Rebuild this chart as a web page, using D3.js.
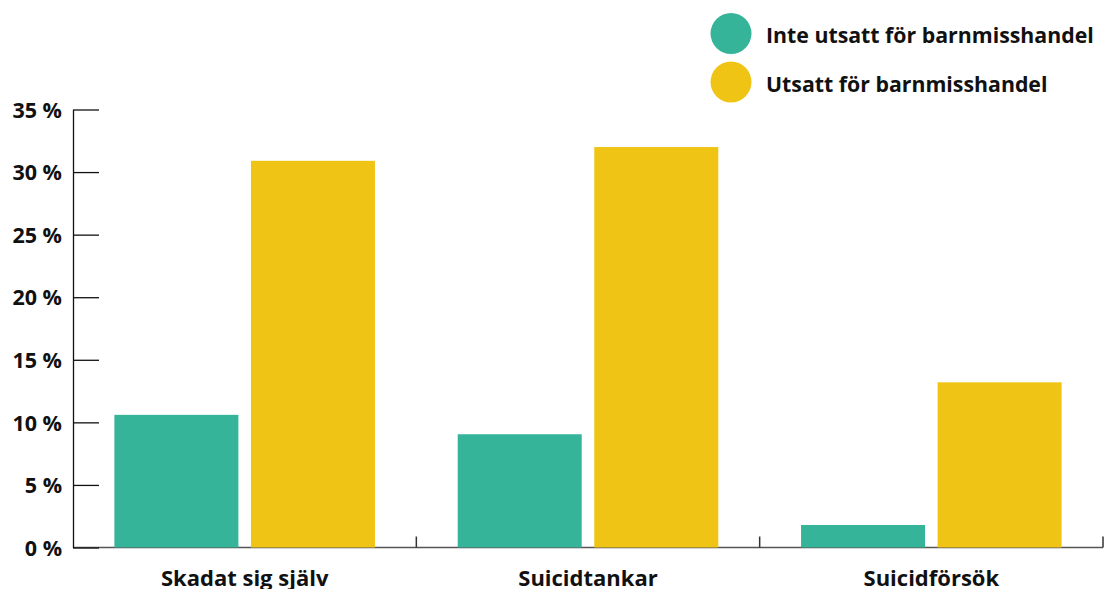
<!DOCTYPE html>
<html>
<head>
<meta charset="utf-8">
<script src="https://cdn.jsdelivr.net/npm/d3@7"></script>
<style>
  body { margin: 0; background: #fff; }
  svg { display: block; font-family: "Open Sans", "Noto Sans", sans-serif; font-weight: 700; }
</style>
</head>
<body>
<div id="container"></div>
<script>
// data
const categories = ['Skadat sig själv', 'Suicidtankar', 'Suicidförsök'];
const seriesNames = ['Inte utsatt för barnmisshandel', 'Utsatt för barnmisshandel'];
const notAbused = [10.6, 9.05, 1.8];
const abused = [30.9, 32.0, 13.2];
const yTicks = [0, 5, 10, 15, 20, 25, 30, 35];
const colors = ['#36b49a', '#f0c415'];

const svgWidth = 1105;
const svgHeight = 589;
const plotLeft = 73, plotRight = 1103, plotTop = 109.5, plotBottom = 547.5;

const svg = d3.select('#container')
  .append('svg')
  .attr('width', svgWidth)
  .attr('height', svgHeight);

const x0 = d3.scaleBand()
  .domain(categories)
  .range([plotLeft, plotRight])
  .padding(0);

const x1 = d3.scaleBand()
  .domain([0, 1])
  .range([0, x0.bandwidth()])
  .paddingInner(0.092)
  .paddingOuter(0.303);

const yScale = d3.scaleLinear()
  .domain([0, 35])
  .range([plotBottom, plotTop]);

// x axis line + category ticks
svg.append('line')
  .attr('x1', plotLeft).attr('x2', plotRight)
  .attr('y1', plotBottom).attr('y2', plotBottom)
  .attr('stroke', '#555')
  .attr('stroke-width', 1.5);

svg.selectAll('.cat-tick')
  .data(categories)
  .enter()
  .append('line')
  .attr('class', 'cat-tick')
  .attr('x1', d => x0(d) + x0.bandwidth())
  .attr('x2', d => x0(d) + x0.bandwidth())
  .attr('y1', plotBottom)
  .attr('y2', plotBottom - 11)
  .attr('stroke', '#333')
  .attr('stroke-width', 1.5);

// bars
const rows = categories.map((c, i) => ({ cat: c, vals: [notAbused[i], abused[i]] }));

const groups = svg.selectAll('.grp')
  .data(rows)
  .enter()
  .append('g')
  .attr('class', 'grp')
  .attr('transform', d => `translate(${x0(d.cat)},0)`);

groups.selectAll('rect')
  .data(d => d.vals)
  .enter()
  .append('rect')
  .attr('x', (d, i) => x1(i))
  .attr('y', d => yScale(d))
  .attr('width', x1.bandwidth())
  .attr('height', d => plotBottom - yScale(d))
  .attr('fill', (d, i) => colors[i]);

// category labels (bottom of the text is cut by the edge, as in the original)
svg.selectAll('.cat-label')
  .data(categories)
  .enter()
  .append('text')
  .attr('class', 'cat-label')
  .attr('x', d => x0(d) + x0.bandwidth() / 2)
  .attr('y', plotBottom + 38.5)
  .attr('text-anchor', 'middle')
  .attr('font-size', 22)
  .attr('fill', '#111')
  .text(d => d);

// y axis
const yAxis = d3.axisLeft(yScale)
  .tickValues(yTicks)
  .tickSizeInner(-26)
  .tickSizeOuter(0)
  .tickPadding(11)
  .tickFormat(d => d + ' %');

const yg = svg.append('g')
  .attr('transform', `translate(${plotLeft},0)`)
  .call(yAxis);

yg.select('.domain').attr('stroke', '#111').attr('stroke-width', 1.3);
yg.selectAll('.tick line').attr('stroke', '#111').attr('stroke-width', 1.3);
yg.selectAll('.tick text')
  .attr('font-size', 21.5)
  .attr('dy', '0.36em')
  .attr('font-family', '"Open Sans", "Noto Sans", sans-serif')
  .attr('font-weight', 700)
  .attr('fill', '#111');

// legend
const legend = svg.selectAll('.legend')
  .data(seriesNames)
  .enter()
  .append('g')
  .attr('class', 'legend')
  .attr('transform', (d, i) => `translate(731,${33.5 + i * 48.5})`);

legend.append('circle')
  .attr('r', 20.5)
  .attr('fill', (d, i) => colors[i]);

legend.append('text')
  .attr('x', 35)
  .attr('y', 0)
  .attr('dy', '0.45em')
  .attr('font-size', 21.3)
  .attr('fill', '#111')
  .text(d => d);
</script>
</body>
</html>
